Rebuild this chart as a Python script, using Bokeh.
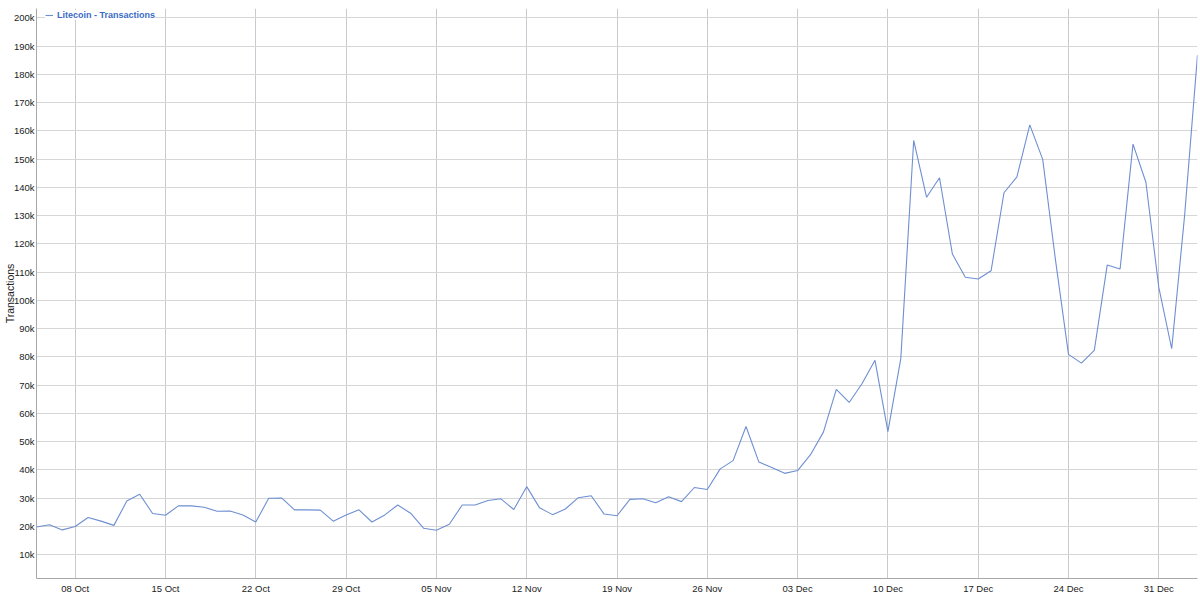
import math
from datetime import datetime, timedelta

from bokeh.plotting import figure
from bokeh.models import (Range1d, FixedTicker, DatetimeTickFormatter, NumeralTickFormatter,
                          Legend, LegendItem)
from bokeh.embed import file_html
from bokeh.resources import INLINE

# ---------------- data ----------------
series_name = "Litecoin - Transactions"
y_axis_title = "Transactions"
start_date = "2017-10-05"
transactions = [
    # Oct 5 .. Oct 31
    19800, 20600, 18800, 20000, 23200, 21900, 20400, 29000, 31400, 24600,
    24000, 27300, 27300, 26800, 25400, 25500, 24100, 21600, 30000, 30100,
    25900, 25900, 25800, 21900, 24100, 25900, 21600,
    # Nov 1 .. Nov 30
    24100, 27600, 24700, 19400, 18700, 20800, 27600, 27600, 29200, 29800,
    26000, 34100, 26600, 24200, 26200, 30200, 30900, 24400, 23800, 29600,
    29800, 28400, 30500, 28800, 33800, 33100, 40400, 43300, 55400, 42800,
    # Dec 1 .. Dec 31
    40900, 38800, 39800, 45400, 53400, 68500, 63900, 70600, 78800, 53600,
    79400, 156600, 136500, 143400, 116400, 108200, 107600, 110500, 138100, 143700,
    162100, 149900, 114000, 80900, 77800, 82300, 112500, 111100, 155300, 141800,
    104600,
    # Jan 1 .. Jan 3
    82900, 130000, 186800,
]
x_tick_dates = ["2017-10-08", "2017-10-15", "2017-10-22", "2017-10-29", "2017-11-05",
                "2017-11-12", "2017-11-19", "2017-11-26", "2017-12-03", "2017-12-10",
                "2017-12-17", "2017-12-24", "2017-12-31"]
y_ticks = [10000, 20000, 30000, 40000, 50000, 60000, 70000, 80000, 90000, 100000,
           110000, 120000, 130000, 140000, 150000, 160000, 170000, 180000, 190000, 200000]
x_range_dates = ("2017-10-05", "2018-01-03")
y_range_vals = (1600, 203300)

# ---------------- build ----------------
d0 = datetime.strptime(start_date, "%Y-%m-%d")
dates = [d0 + timedelta(days=i) for i in range(len(transactions))]

def ms(s):
    return (datetime.strptime(s, "%Y-%m-%d") - datetime(1970, 1, 1)).total_seconds() * 1000.0

FONT = "Liberation Sans"

p = figure(width=1198, height=596, x_axis_type="datetime",
           output_backend="svg", toolbar_location=None,
           x_range=Range1d(datetime.strptime(x_range_dates[0], "%Y-%m-%d"),
                           datetime.strptime(x_range_dates[1], "%Y-%m-%d")),
           y_range=Range1d(*y_range_vals),
           min_border_left=36, min_border_right=1, min_border_top=8, min_border_bottom=15)
p.outline_line_color = None
p.background_fill_color = "white"
p.border_fill_color = "white"

r = p.line(dates, transactions, line_color="#6e8fd2", line_width=1.1)

# axes
p.xaxis.ticker = FixedTicker(ticks=[ms(s) for s in x_tick_dates])
p.xaxis.formatter = DatetimeTickFormatter(days="%d %b", months="%d %b", years="%d %b",
                                          hours="%d %b", minutes="%d %b", seconds="%d %b",
                                          milliseconds="%d %b", microseconds="%d %b",
                                          hourmin="%d %b", minsec="%d %b")
p.yaxis.ticker = FixedTicker(ticks=y_ticks)
p.yaxis.formatter = NumeralTickFormatter(format="0a")

for ax in (p.xaxis[0], p.yaxis[0]):
    ax.major_tick_out = 0
    ax.major_tick_in = 0
    ax.minor_tick_out = 0
    ax.minor_tick_in = 0
    ax.major_label_text_font = FONT
    ax.major_label_text_font_size = "9.5px"
    ax.major_label_text_color = "#222222"
    ax.axis_line_color = "#a8a8a8"
    ax.axis_line_width = 1
p.xaxis.major_label_standoff = 4
p.yaxis.major_label_standoff = 2

p.yaxis.axis_label = y_axis_title
p.yaxis.axis_label_standoff = -5
p.yaxis.axis_label_text_font = FONT
p.yaxis.axis_label_text_font_size = "10.5px"
p.yaxis.axis_label_text_font_style = "normal"
p.yaxis.axis_label_text_color = "#222222"

p.xgrid.grid_line_color = "#c9c9cf"
p.xgrid.grid_line_width = 1
p.ygrid.grid_line_color = "#d6d6d6"
p.ygrid.grid_line_width = 1

legend = Legend(items=[LegendItem(label=series_name, renderers=[r])],
                location=(9, 558), padding=2, margin=0, spacing=0,
                glyph_width=8, glyph_height=10, label_height=10, label_standoff=4,
                label_text_font=FONT, label_text_font_size="9px",
                label_text_font_style="bold", label_text_color="#3b6bc6",
                border_line_color=None, background_fill_color="white",
                background_fill_alpha=1.0)
p.add_layout(legend)

open("out.html", "w").write(file_html(p, INLINE))
